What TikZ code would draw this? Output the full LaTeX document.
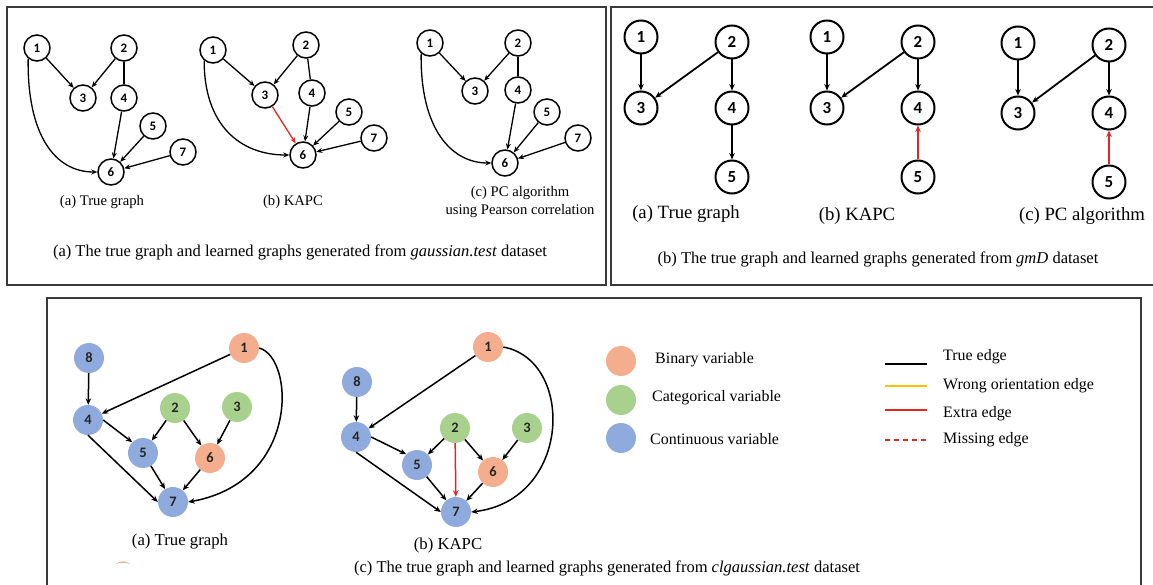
\documentclass[tikz,border=0pt]{standalone}
\usepackage{fontspec}
\setmainfont{Liberation Serif}
\newfontfamily\numfont{Carlito}
\usetikzlibrary{arrows.meta}

\definecolor{binfill}{HTML}{F4AE8E}
\definecolor{catfill}{HTML}{A9D18E}
\definecolor{confill}{HTML}{8FAADC}
\definecolor{extrared}{HTML}{E52521}
\definecolor{wrongyel}{HTML}{FFC000}
\definecolor{framegray}{HTML}{3A3A3A}

\begin{document}
\begin{tikzpicture}[x=1bp,y=-1bp,
  % plain outlined variables
  smallvar/.style={circle,draw=black,fill=white,line width=1.5bp,minimum size=26bp,inner sep=0pt,
    font=\numfont\bfseries\fontsize{13}{13}\selectfont},
  bigvar/.style={circle,draw=black,fill=white,line width=2bp,minimum size=33bp,inner sep=0pt,
    font=\numfont\bfseries\fontsize{17}{17}\selectfont},
  % coloured variables by type
  colvar/.style={circle,minimum size=30bp,inner sep=0pt,text=black!85,
    font=\numfont\bfseries\fontsize{14.5}{14.5}\selectfont},
  binvar/.style={colvar,fill=binfill},
  catvar/.style={colvar,fill=catfill},
  convar/.style={colvar,fill=confill},
  % edges
  edgeA/.style={-{Stealth[length=6bp,width=5bp]},line width=1.3bp},
  lineA/.style={line width=1.3bp},
  edgeB/.style={-{Stealth[length=6.5bp,width=5.5bp]},line width=1.8bp},
  edgeC/.style={-{Stealth[length=6.5bp,width=5.5bp]},line width=1.5bp},
  extra/.style={draw=extrared},
  % texts
  subA/.style={inner sep=0pt,font=\fontsize{14.7}{17.5}\selectfont,align=center},
  capt/.style={inner sep=0pt,font=\fontsize{16.6}{19}\selectfont},
  subB/.style={inner sep=0pt,font=\fontsize{18.8}{22}\selectfont},
  subC/.style={inner sep=0pt,font=\fontsize{16.8}{19}\selectfont},
  legtext/.style={inner sep=0pt,anchor=west,font=\fontsize{16}{19}\selectfont},
  frame/.style={draw=framegray,line width=1.5bp}
]
\useasboundingbox (0,0) rectangle (1153,585);
\clip (0,0) rectangle (1153,585);
\fill[white] (0,0) rectangle (1153,585);

% ---------- frames ----------
\draw[frame] (7,7) rectangle (606,285);
\draw[frame] (611,7) rectangle (1175,285);
\draw[frame] (47,298) rectangle (1141,600);

% ================= panel (a): gaussian.test =================
% true graph
\node[smallvar] (a1) at (37,48) {1};
\node[smallvar] (a2) at (124,48) {2};
\node[smallvar] (a3) at (83,98) {3};
\node[smallvar] (a4) at (124,98) {4};
\node[smallvar] (a5) at (153,126) {5};
\node[smallvar] (a7) at (183,152) {7};
\node[smallvar] (a6) at (111,172) {6};
\draw[edgeA] (a1) -- (a3);
\draw[edgeA] (a2) -- (a3);
\draw[lineA] (a2) -- (a4);
\draw[edgeA] (a4) -- (a6);
\draw[edgeA] (a5) -- (a6);
\draw[edgeA] (a7) -- (a6);
\draw[edgeA] (a1.-130) .. controls (27,135) and (55,172) .. (a6.west);
\node[subA] (la) at (102,202) {(a) True graph};

% KAPC
\node[smallvar] (b1) at (213,50) {1};
\node[smallvar] (b2) at (306,45) {2};
\node[smallvar] (b3) at (265,95) {3};
\node[smallvar] (b4) at (312,93) {4};
\node[smallvar] (b5) at (349,112) {5};
\node[smallvar] (b7) at (374,138) {7};
\node[smallvar] (b6) at (303,155) {6};
\draw[edgeA] (b1) -- (b3);
\draw[edgeA] (b2) -- (b3);
\draw[lineA] (b2) -- (b4);
\draw[edgeA] (b4) -- (b6);
\draw[edgeA] (b5) -- (b6);
\draw[edgeA] (b7) -- (b6);
\draw[edgeA,extra] (b3) -- (b6);
\draw[edgeA] (b1.-130) .. controls (204,125) and (240,155) .. (b6.west);
\node[subA] (lb) at (293,202) {(b) KAPC};

% PC algorithm
\node[smallvar] (c1) at (430,43) {1};
\node[smallvar] (c2) at (518,43) {2};
\node[smallvar] (c3) at (475,91) {3};
\node[smallvar] (c4) at (518,90) {4};
\node[smallvar] (c5) at (547,112) {5};
\node[smallvar] (c7) at (578,138) {7};
\node[smallvar] (c6) at (505,163) {6};
\draw[edgeA] (c1) -- (c3);
\draw[edgeA] (c2) -- (c3);
\draw[lineA] (c2) -- (c4);
\draw[edgeA] (c4) -- (c6);
\draw[edgeA] (c5) -- (c6);
\draw[edgeA] (c7) -- (c6);
\draw[edgeA] (c1.-130) .. controls (420,130) and (452,163) .. (c6.west);
\node[subA] (lc) at (520,202) {(c) PC algorithm\\using Pearson correlation};

\node[capt] (capa) at (300,252) {(a) The true graph and learned graphs generated from \textit{gaussian.test} dataset};

% ================= panel (b): gmD =================
% true graph
\node[bigvar] (d1) at (641,37) {1};
\node[bigvar] (d2) at (732,42) {2};
\node[bigvar] (d3) at (641,108) {3};
\node[bigvar] (d4) at (732,108) {4};
\node[bigvar] (d5) at (732,177) {5};
\draw[edgeB] (d1) -- (d3);
\draw[edgeB] (d2) -- (d3);
\draw[edgeB] (d2) -- (d4);
\draw[edgeB] (d4) -- (d5);
\node[subB] (ld) at (686,214) {(a) True graph};

% KAPC
\node[bigvar] (e1) at (827,37) {1};
\node[bigvar] (e2) at (918,42) {2};
\node[bigvar] (e3) at (827,108) {3};
\node[bigvar] (e4) at (918,108) {4};
\node[bigvar] (e5) at (918,177) {5};
\draw[edgeB] (e1) -- (e3);
\draw[edgeB] (e2) -- (e3);
\draw[edgeB] (e2) -- (e4);
\draw[edgeB,extra] (e5) -- (e4);
\node[subB] (le) at (857,216) {(b) KAPC};

% PC algorithm
\node[bigvar] (f1) at (1018,43) {1};
\node[bigvar] (f2) at (1109,45) {2};
\node[bigvar] (f3) at (1018,113) {3};
\node[bigvar] (f4) at (1109,113) {4};
\node[bigvar] (f5) at (1109,182) {5};
\draw[edgeB] (f1) -- (f3);
\draw[edgeB] (f2) -- (f3);
\draw[edgeB] (f2) -- (f4);
\draw[edgeB,extra] (f5) -- (f4);
\node[subB] (lf) at (1082,216) {(c) PC algorithm};

\node[capt] (capb) at (878,259) {(b) The true graph and learned graphs generated from \textit{gmD} dataset};

% ================= panel (c): clgaussian.test =================
% true graph
\node[convar] (g8) at (89,358) {8};
\node[binvar] (g1) at (244,348) {1};
\node[convar] (g4) at (88,420) {4};
\node[catvar] (g2) at (175,408) {2};
\node[catvar] (g3) at (237,407) {3};
\node[convar] (g5) at (143,453) {5};
\node[binvar] (g6) at (210,458) {6};
\node[convar] (g7) at (173,502) {7};
\draw[edgeC] (g8) -- (g4);
\draw[edgeC] (g1) -- (g4);
\draw[edgeC] (g4.east) -- (g5.north west);
\draw[edgeC] (g2) -- (g5);
\draw[edgeC] (g2) -- (g6);
\draw[edgeC] (g3) -- (g6);
\draw[edgeC] (g4.south) -- (g7.west);
\draw[edgeC] (g5) -- (g7);
\draw[edgeC] (g6) -- (g7);
\draw[edgeC] (g1.east) .. controls (295,358) and (300,482) .. (g7.east);
\node[subC] (lg) at (180,541) {(a) True graph};
\fill[binfill] (116,564) .. controls (120,560.5) and (126,560.5) .. (130,564)
  .. controls (126,562.5) and (120,562.5) .. cycle;

% KAPC
\node[binvar] (h1) at (488,347) {1};
\node[convar] (h8) at (357,382) {8};
\node[convar] (h4) at (356,437) {4};
\node[catvar] (h2) at (455,428) {2};
\node[catvar] (h3) at (527,428) {3};
\node[convar] (h5) at (417,465) {5};
\node[binvar] (h6) at (493,472) {6};
\node[convar] (h7) at (456,512) {7};
\draw[edgeC] (h8) -- (h4);
\draw[edgeC] (h1) -- (h4);
\draw[edgeC] (h4.east) -- (h5.north west);
\draw[edgeC] (h2) -- (h5);
\draw[edgeC] (h2) -- (h6);
\draw[edgeC] (h3) -- (h6);
\draw[edgeC] (h4.south) -- (h7.west);
\draw[edgeC] (h5) -- (h7);
\draw[edgeC] (h6) -- (h7);
\draw[edgeC,extra] (h2) -- (h7);
\draw[edgeC] (h1.east) .. controls (575,360) and (572,500) .. (h7.east);
\node[subC] (lh) at (448,545) {(b) KAPC};

\node[capt] (capc) at (607,568) {(c) The true graph and learned graphs generated from \textit{clgaussian.test} dataset};

% legend: variable types
\node[binvar] (k1) at (621,361) {};
\node[catvar] (k2) at (621,400) {};
\node[convar] (k3) at (621,438) {};
\node[legtext] (t1) at (655,360) {Binary variable};
\node[legtext] (t2) at (652,398) {Categorical variable};
\node[legtext] (t3) at (650,439) {Continuous variable};

% legend: edge types
\coordinate (m1a) at (885,364); \coordinate (m1b) at (927,364);
\coordinate (m2a) at (885,386); \coordinate (m2b) at (927,386);
\coordinate (m3a) at (885,410); \coordinate (m3b) at (927,410);
\coordinate (m4a) at (885,440); \coordinate (m4b) at (927,440);
\draw[line width=1.6bp,black] (m1a) -- (m1b);
\draw[line width=1.6bp,wrongyel] (m2a) -- (m2b);
\draw[line width=1.6bp,extrared] (m3a) -- (m3b);
\draw[line width=1.6bp,extrared,dash pattern=on 5bp off 4bp] (m4a) -- (m4b);
\node[legtext] (u1) at (943,357) {True edge};
\node[legtext] (u2) at (943,386) {Wrong orientation edge};
\node[legtext] (u3) at (943,414) {Extra edge};
\node[legtext] (u4) at (943,440) {Missing edge};
\end{tikzpicture}
\end{document}
